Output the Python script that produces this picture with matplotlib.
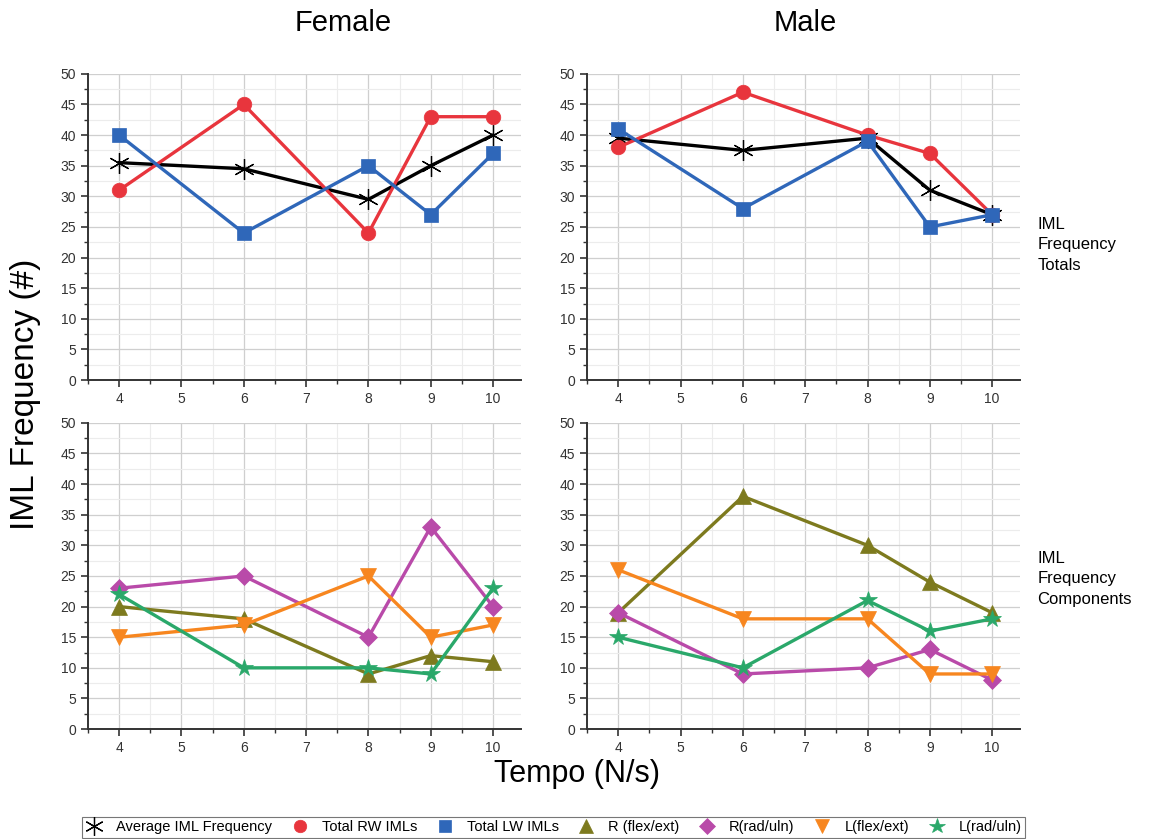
import numpy as np
import matplotlib.pyplot as plt
from matplotlib.lines import Line2D
from matplotlib.ticker import MultipleLocator

plt.rcParams['font.family'] = ['Liberation Sans', 'DejaVu Sans']

# tempo values (N/s)
tempo = [4, 6, 8, 9, 10]

# totals
f_avg = [35.5, 34.5, 29.5, 35, 40]
f_rw = [31, 45, 24, 43, 43]
f_lw = [40, 24, 35, 27, 37]
m_avg = [39.5, 37.5, 39.5, 31, 27]
m_rw = [38, 47, 40, 37, 27]
m_lw = [41, 28, 39, 25, 27]

# components
f_rfe = [20, 18, 9, 12, 11]
f_rru = [23, 25, 15, 33, 20]
f_lfe = [15, 17, 25, 15, 17]
f_lru = [22, 10, 10, 9, 23]
m_rfe = [19, 38, 30, 24, 19]
m_rru = [19, 9, 10, 13, 8]
m_lfe = [26, 18, 18, 9, 9]
m_lru = [15, 10, 21, 16, 18]

labels = ['Average IML Frequency', 'Total RW IMLs', 'Total LW IMLs',
          'R (flex/ext)', 'R(rad/uln)', 'L(flex/ext)', 'L(rad/uln)']
colors = ['black', '#e8353d', '#2f67b9', '#7d7a1e', '#b94aa9', '#f7861f', '#2aa86a']
markers = [(6, 2, 0), 'o', 's', '^', 'D', 'v', '*']
msizes = [15, 10.5, 9.5, 11, 9.5, 11, 13]

fig = plt.figure(figsize=(11.58, 8.39), dpi=100)
W, H = 0.374, 0.365
pos = [[0.076, 0.547], [0.507, 0.547], [0.076, 0.131], [0.507, 0.131]]
data = [
    [f_avg, f_rw, f_lw],
    [m_avg, m_rw, m_lw],
    [f_rfe, f_rru, f_lfe, f_lru],
    [m_rfe, m_rru, m_lfe, m_lru],
]

for k, (p, series) in enumerate(zip(pos, data)):
    ax = fig.add_axes([p[0], p[1], W, H])
    off = 0 if k < 2 else 3
    for i, ys in enumerate(series):
        j = i + off
        mew = 0.9 if j == 0 else 0.5
        ax.plot(tempo, ys, color=colors[j], lw=2.4, marker=markers[j],
                ms=msizes[j], mec=colors[j], mfc=colors[j], mew=mew, zorder=3)
    ax.set_xlim(3.5, 10.45)
    ax.set_ylim(0, 50)
    ax.xaxis.set_major_locator(MultipleLocator(1))
    ax.xaxis.set_minor_locator(MultipleLocator(0.5))
    ax.yaxis.set_major_locator(MultipleLocator(5))
    ax.yaxis.set_minor_locator(MultipleLocator(2.5))
    ax.grid(True, which='major', color='#cfcfcf', lw=0.9)
    ax.grid(True, which='minor', color='#ececec', lw=0.8)
    ax.set_axisbelow(True)
    for s in ['top', 'right']:
        ax.spines[s].set_visible(False)
    for s in ['left', 'bottom']:
        ax.spines[s].set_linewidth(1.4)
        ax.spines[s].set_color('#333333')
    ax.tick_params(which='major', direction='out', length=5, width=1.2,
                   labelsize=10, colors='#333333')
    ax.tick_params(which='minor', direction='out', length=3, width=1.0, colors='#333333')

fig.text(0.296, 0.972, 'Female', fontsize=21, ha='center', va='center')
fig.text(0.695, 0.972, 'Male', fontsize=21, ha='center', va='center')
fig.text(0.022, 0.53, 'IML Frequency (#)', fontsize=24, rotation=90, ha='center', va='center')
fig.text(0.498, 0.077, 'Tempo (N/s)', fontsize=22, ha='center', va='center')
fig.text(0.896, 0.708, 'IML\nFrequency\nTotals', fontsize=12, ha='left', va='center',
         linespacing=1.45)
fig.text(0.896, 0.31, 'IML\nFrequency\nComponents', fontsize=12, ha='left', va='center',
         linespacing=1.45)

handles = [Line2D([], [], ls='none', marker=markers[i], color=colors[i],
                  mec=colors[i], ms=msizes[i] - 1.5, mew=0.9 if i == 0 else 0.5)
           for i in range(len(labels))]
leg = fig.legend(handles, labels, loc='center', bbox_to_anchor=(0.478, 0.014), ncol=7,
                 fontsize=10.5, frameon=True, fancybox=False, edgecolor='#555555',
                 handlelength=1.2, handletextpad=0.9, columnspacing=1.3,
                 borderpad=0.25)
leg.get_frame().set_linewidth(0.8)

fig.savefig('out.png', dpi=100)
